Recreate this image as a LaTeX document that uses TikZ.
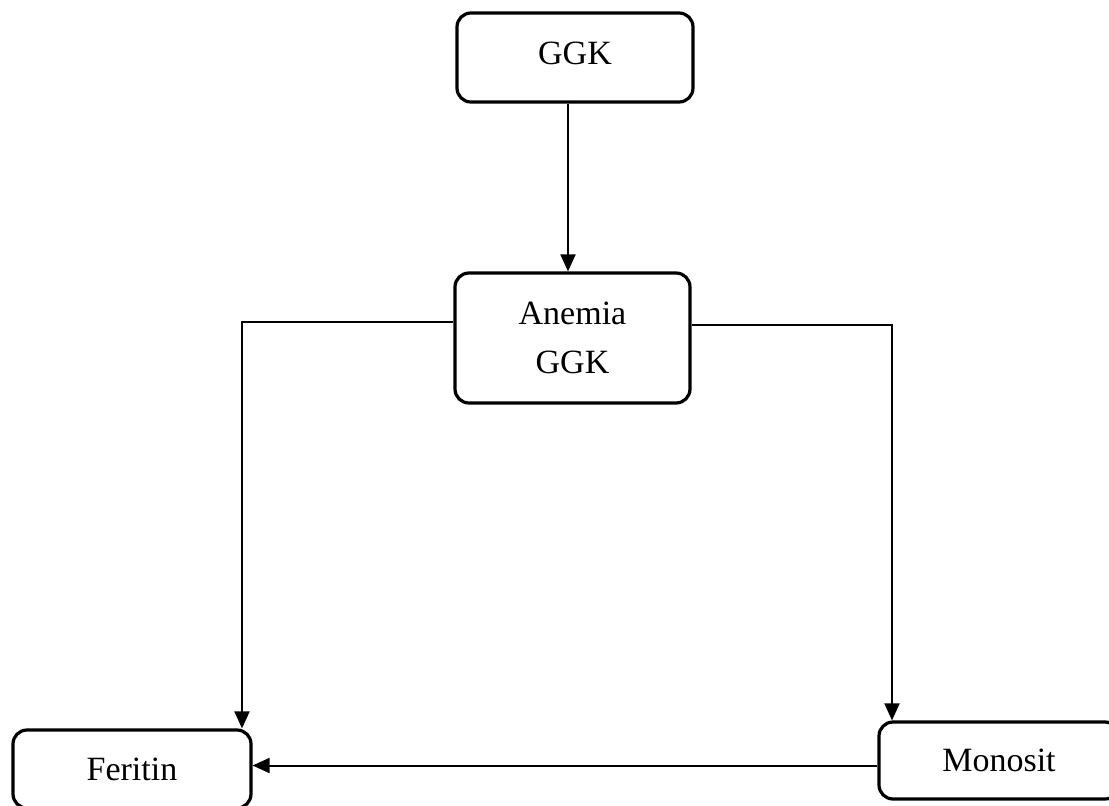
\documentclass[tikz,border=0pt]{standalone}
\usepackage{fontspec}
\setmainfont{Liberation Serif}
\usetikzlibrary{arrows.meta}
\begin{document}
\begin{tikzpicture}[x=1pt,y=-1pt,
  box/.style={draw, line width=3.2pt, rounded corners=14pt, align=center,
    font=\fontsize{34}{49}\selectfont, inner sep=0pt},
  conn/.style={line width=2pt, -{Triangle[length=17pt,width=15pt]}}]
\useasboundingbox (0,0) rectangle (1109,806);
\node[box, minimum width=236pt, minimum height=89pt, text depth=9pt] (ggk) at (575,57.5) {GGK};
\node[box, minimum width=235pt, minimum height=130pt] (anemia) at (572.5,338) {Anemia\\GGK};
\node[box, minimum width=238pt, minimum height=78pt] (feritin) at (132,769) {Feritin};
\node[box, minimum width=240pt, minimum height=77pt] (monosit) at (999,760.5) {Monosit};
\draw[conn] ([xshift=-7pt]ggk.south) -- ([xshift=-7pt]ggk.south |- anemia.north);
\draw[conn] ([yshift=16pt]anemia.west) -| ([xshift=110pt]feritin.north);
\draw[conn] ([yshift=13pt]anemia.east) -| ([xshift=-107pt]monosit.north);
\draw[conn] ([yshift=-5pt]monosit.west) -- ([yshift=-5pt]monosit.west -| feritin.east);
\end{tikzpicture}
\end{document}
